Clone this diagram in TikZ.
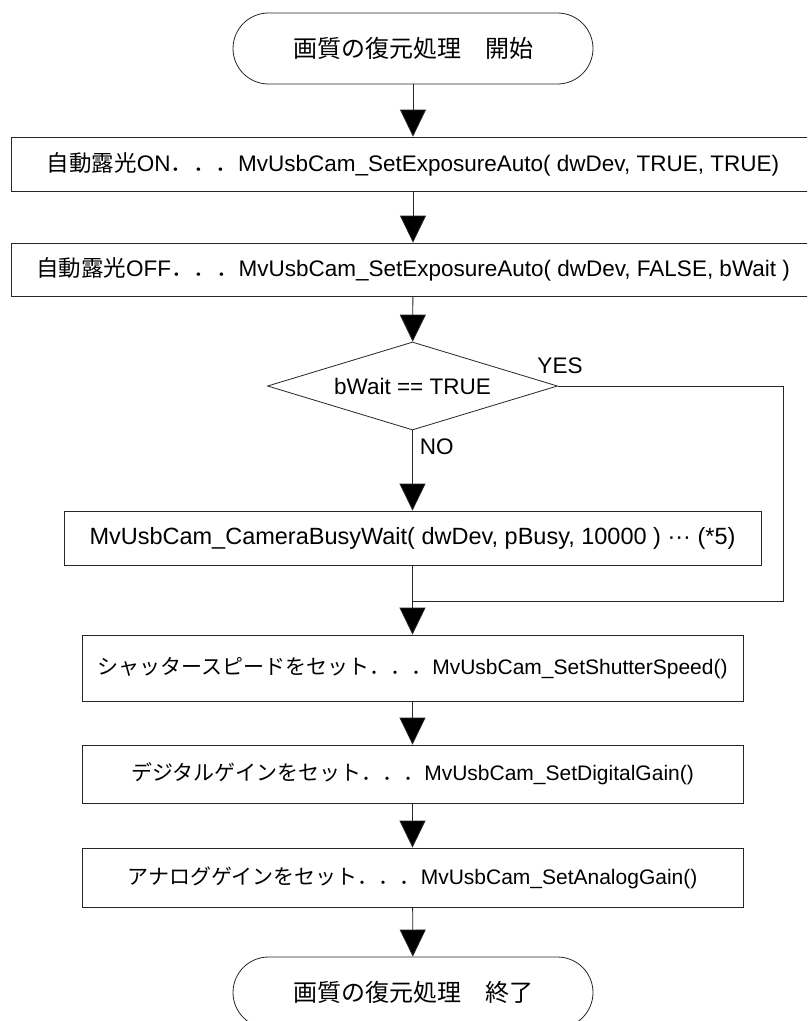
\documentclass[tikz,border=0pt]{standalone}
\usepackage{fontspec}
\setmainfont{Liberation Sans}
\newfontfamily\jp{Noto Sans CJK JP}
\usetikzlibrary{shapes.geometric,arrows.meta}
\begin{document}
\begin{tikzpicture}[x=1pt,y=-1pt,
  line width=0.8pt, draw=black!85,
  arr/.style={-{Triangle[length=27pt,width=26pt,fill=black]}},
  term/.style={draw, rectangle, rounded corners=35.5pt, minimum width=360pt, minimum height=71pt, inner sep=0pt, font=\jp\fontsize{24}{28}\selectfont},
  wbox/.style={draw, rectangle, inner sep=0pt, font=\fontsize{22.5}{27}\selectfont},
  nbox/.style={draw, rectangle, inner sep=0pt, minimum width=661pt, font=\fontsize{21}{25}\selectfont},
  dec/.style={draw, diamond, aspect=3.3, inner sep=0pt, minimum width=290pt, minimum height=88pt, font=\fontsize{22.5}{27}\selectfont},
  lbl/.style={font=\fontsize{22.5}{27}\selectfont, inner sep=0pt}]
\useasboundingbox (0,0) rectangle (807,1021);
\fill[white] (0,0) rectangle (807,1021);
\clip (0,0) rectangle (807,1021);

\node[term] (start) at (413,48.5) {画質の復元処理　開始};
\node[wbox, minimum width=804pt, minimum height=54pt] (b1) at (413,164)
  {{\jp 自動露光}ON{\jp ．．．}MvUsbCam\_SetExposureAuto( dwDev, TRUE, TRUE)};
\node[wbox, minimum width=804pt, minimum height=53pt] (b2) at (413,269.5)
  {{\jp 自動露光}OFF{\jp ．．．}MvUsbCam\_SetExposureAuto( dwDev, FALSE, bWait )};
\node[dec] (d) at (412.5,386) {bWait == TRUE};
\node[wbox, minimum width=697pt, minimum height=54pt, font=\fontsize{23.5}{28}\selectfont] (b3) at (412.5,538)
  {MvUsbCam\_CameraBusyWait( dwDev, pBusy, 10000 ) ··· (*5)};
\node[nbox, minimum height=66pt] (b4) at (412.5,668)
  {{\jp シャッタースピードをセット．．．}MvUsbCam\_SetShutterSpeed()};
\node[nbox, minimum height=58pt] (b5) at (412.5,774)
  {{\jp デジタルゲインをセット．．．}MvUsbCam\_SetDigitalGain()};
\node[nbox, minimum height=59pt] (b6) at (412.5,877.5)
  {{\jp アナログゲインをセット．．．}MvUsbCam\_SetAnalogGain()};
\node[term] (end) at (413,992.5) {画質の復元処理　終了};

\coordinate (c1) at (783,386);
\coordinate (c2) at (783,601);
\coordinate (j) at (412.5,601);

\draw[arr] (start) -- (b1);
\draw[arr] (b1) -- (b2);
\draw[arr] (b2) -- (d);
\draw[arr] (d) -- node[lbl, pos=0.2, anchor=west, xshift=7pt] (no) {NO} (b3);
\draw (d.east) -- (c1) -- (c2) -- (j);
\node[lbl] (yes) at (560,366) {YES};
\draw[arr] (b3) -- (b4);
\draw[arr] (b4) -- (b5);
\draw[arr] (b5) -- (b6);
\draw[arr] (b6) -- (end);
\end{tikzpicture}
\end{document}
